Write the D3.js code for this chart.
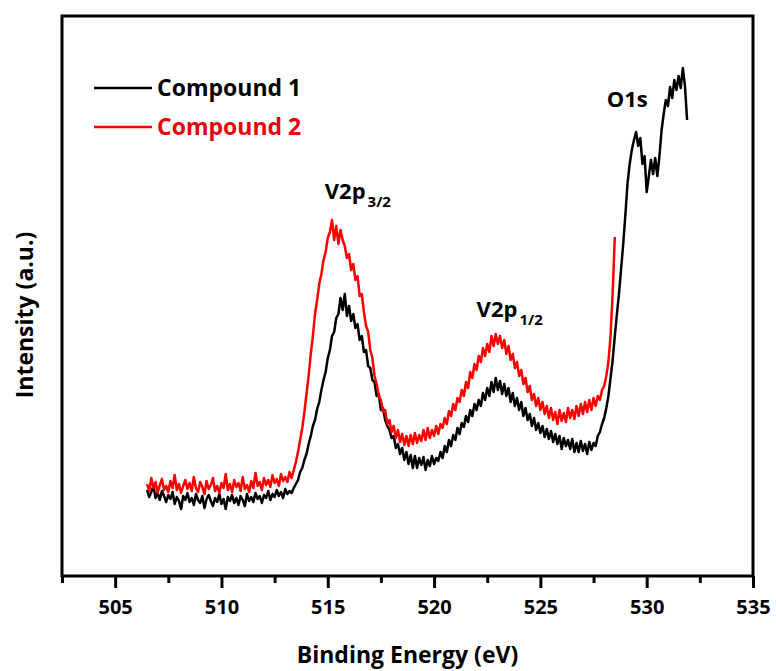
<!DOCTYPE html>
<html>
<head>
<meta charset="utf-8">
<script src="https://cdn.jsdelivr.net/npm/d3@7"></script>
<style>
  body { margin: 0; background: #fff; }
  text { font-family: "Open Sans", sans-serif; font-weight: 700; }
</style>
</head>
<body>
<div id="chart"></div>
<script>
// binding energy grid of the scan (eV)
var energyStart = 506.5;
var energyStep = 0.1;

// intensity (a.u.), one value per grid step
var compound1 = [
  86, 79, 84, 90, 78, 83, 76, 85, 80, 74,
  81, 77, 84, 72, 79, 75, 67, 80, 76, 83,
  74, 78, 71, 82, 76, 73, 80, 68, 77, 81,
  75, 70, 78, 74, 82, 72, 77, 67, 79, 75,
  81, 73, 78, 71, 80, 76, 70, 82, 75, 79,
  74, 83, 77, 80, 73, 81, 78, 85, 76, 82,
  79, 86, 80, 84, 78, 87, 82, 85, 83,
  88, 92, 96, 104, 108, 116, 122, 132, 140, 150,
  156, 167, 174, 186, 196, 204, 218, 226, 240, 244,
  258, 262, 278, 266, 282, 260, 270, 255, 262, 248,
  252, 236, 240, 224, 226, 210, 208, 196, 194, 180,
  182, 166, 168, 156, 150, 146, 138, 140, 128, 132,
  122, 128, 116, 124, 112, 121, 108, 120, 108, 118,
  111, 119, 106, 116, 110, 120, 112, 118, 115, 124,
  118, 130, 124, 136, 130, 141, 136, 148, 142, 153,
  149, 160, 154, 166, 160, 172, 166, 176, 170, 183,
  176, 188, 180, 194, 184, 198, 186, 195, 182, 192,
  180, 188, 174, 183, 170, 178, 166, 174, 160, 168,
  156, 162, 150, 158, 146, 153, 143, 150, 139, 147,
  137, 145, 134, 142, 132, 140, 127, 138, 130, 136,
  127, 137, 124, 133, 124, 135, 125, 132, 122, 134,
  126, 133, 130, 140, 144, 152, 158, 168, 180, 198,
  216, 240, 262, 283, 308, 333, 362, 393, 412, 426,
  436, 444, 430, 438, 412, 420, 384, 400, 416, 402,
  418, 400, 420, 446, 462, 476, 470, 489, 478, 496,
  486, 500, 488, 508, 490, 456
];

var compound2 = [
  92, 85, 98, 88, 94, 83, 91, 97, 86, 90,
  84, 95, 88, 101, 86, 92, 83, 90, 96, 87,
  93, 85, 99, 88, 84, 94, 89, 82, 95, 87,
  91, 98, 85, 90, 83, 93, 88, 102, 86, 92,
  84, 96, 89, 93, 85, 99, 87, 91, 84, 95,
  88, 103, 90, 94, 86, 98, 91, 96, 89, 101,
  93, 97, 90, 102, 95, 99, 94, 104, 98,
  106, 114, 124, 136, 148, 164, 182, 200, 222, 240,
  262, 276, 292, 302, 316, 324, 338, 344, 356, 336,
  350, 332, 346, 336, 330, 318, 322, 306, 312, 296,
  300, 280, 282, 264, 250, 244, 226, 218, 200, 192,
  180, 176, 164, 166, 152, 156, 144, 150, 138, 146,
  134, 142, 131, 140, 130, 141, 132, 143, 133, 141,
  135, 146, 136, 148, 138, 146, 140, 150, 142, 152,
  148, 158, 152, 165, 160, 172, 166, 178, 174, 186,
  180, 194, 188, 204, 198, 212, 206, 220, 214, 228,
  220, 232, 224, 240, 230, 242, 232, 240, 228, 236,
  222, 230, 216, 222, 208, 214, 200, 206, 192, 198,
  184, 190, 176, 182, 170, 178, 166, 174, 162, 170,
  158, 168, 156, 164, 152, 166, 155, 163, 154, 168,
  158, 166, 157, 170, 160, 172, 162, 174, 164, 176,
  166, 178, 170, 180, 176, 186, 190, 200, 214, 240,
  283, 339
];

var seriesNames = ["Compound 1", "Compound 2"];
var seriesColors = ["#000000", "#ff0000"];

var xMajorTicks = [505, 510, 515, 520, 525, 530, 535];
var xMinorTicks = [502.5, 507.5, 512.5, 517.5, 522.5, 527.5, 532.5];

// peak annotations: main text, subscript, energy and intensity of the label start
var peakText = ["V2p", "V2p", "O1s"];
var peakSub = ["3/2", "1/2", ""];
var peakEnergy = [514.86, 522.0, 528.12];
var peakLevel = [377, 259, 469];

var width = 776, height = 671;
var margin = {top: 16, right: 23, bottom: 95, left: 62};

var svg = d3.select("#chart")
  .append("svg")
    .attr("width", width)
    .attr("height", height);

var x = d3.scaleLinear()
  .domain([502.5, 535])
  .range([margin.left, width - margin.right]);

var y = d3.scaleLinear()
  .domain([0, 560])
  .range([height - margin.bottom, margin.top]);

function toPoints(values) {
  return values.map(function(v, i) {
    return [energyStart + i * energyStep, v];
  });
}

var line = d3.line()
  .x(function(d) { return x(d[0]); })
  .y(function(d) { return y(d[1]); });

// spectra, black first so red sits on top
[compound1, compound2].forEach(function(values, i) {
  svg.append("path")
    .datum(toPoints(values))
    .attr("fill", "none")
    .attr("stroke", seriesColors[i])
    .attr("stroke-width", 2.5)
    .attr("stroke-linejoin", "round")
    .attr("d", line);
});

// bottom axis: major ticks with labels, minor ticks without
var xAxis = svg.append("g")
  .attr("transform", "translate(0," + y(0) + ")")
  .call(d3.axisBottom(x).tickValues(xMajorTicks).tickSize(12).tickFormat(d3.format("d")));

xAxis.select(".domain").remove();
xAxis.selectAll("line").attr("stroke-width", 3);
xAxis.selectAll("text")
  .attr("y", 38)
  .attr("dy", 0)
  .style("font-size", "20px")
  .style("font-family", "'Open Sans', sans-serif")
  .style("font-weight", 700)
  .attr("fill", "#000");

var xMinor = svg.append("g")
  .attr("transform", "translate(0," + y(0) + ")")
  .call(d3.axisBottom(x).tickValues(xMinorTicks).tickSize(7).tickFormat(""));
xMinor.select(".domain").remove();
xMinor.selectAll("line").attr("stroke-width", 3);

// frame
svg.append("rect")
  .attr("x", x(502.5))
  .attr("y", y(560))
  .attr("width", x(535) - x(502.5))
  .attr("height", y(0) - y(560))
  .attr("fill", "none")
  .attr("stroke", "#000")
  .attr("stroke-width", 3);

// axis titles
svg.append("text")
  .attr("x", (x(502.5) + x(535)) / 2)
  .attr("y", 663)
  .attr("text-anchor", "middle")
  .style("font-size", "23px")
  .text("Binding Energy (eV)");

svg.append("text")
  .attr("transform", "translate(33," + 315 + ") rotate(-90)")
  .attr("text-anchor", "middle")
  .style("font-size", "23px")
  .text("Intensity (a.u.)");

// legend
seriesNames.forEach(function(name, i) {
  var ly = 88 + i * 39;
  svg.append("line")
    .attr("x1", 94).attr("x2", 152)
    .attr("y1", ly).attr("y2", ly)
    .attr("stroke", seriesColors[i])
    .attr("stroke-width", 2.4);
  svg.append("text")
    .attr("x", 157)
    .attr("y", ly + 8)
    .attr("fill", i == 0 ? "#000" : "#e8000b")
    .style("font-size", "23px")
    .text(name);
});

// peak labels
peakText.forEach(function(t, i) {
  var label = svg.append("text")
    .attr("x", x(peakEnergy[i]))
    .attr("y", y(peakLevel[i]))
    .style("font-size", "22px")
    .text(t);
  if (peakSub[i]) {
    label.append("tspan")
      .attr("dy", 8)
      .attr("dx", 2)
      .style("font-size", "15px")
      .text(peakSub[i]);
  }
});
</script>
</body>
</html>
